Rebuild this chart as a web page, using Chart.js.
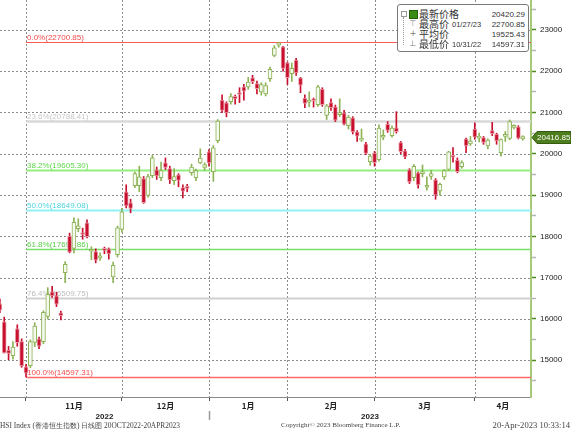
<!DOCTYPE html>
<html>
<head>
<meta charset="utf-8">
<script src="https://cdn.jsdelivr.net/npm/chart.js@4.4.0/dist/chart.umd.min.js"></script>
<style>
  html, body { margin: 0; padding: 0; background: #fff; }
  #wrap { position: relative; width: 571px; height: 430px; overflow: hidden; }
  #c { position: absolute; left: 0; top: 0; }
  .foot { position: absolute; top: 421px; font: 7.4px 'Liberation Serif', serif; line-height: 9px; color: #444; white-space: nowrap; }
  #legend { position: absolute; left: 397px; top: 4px; width: 130px; height: 46px; border: 1px solid #7a7a7a;
            border-radius: 3px; background: #fff; color: #333; }
  #legend .row { position: absolute; left: 0; right: 0; height: 10px; }
  #legend .nm { position: absolute; left: 21px; top: 0; font: 10px 'Noto Sans CJK SC', sans-serif; line-height: 10px; }
  #legend .dt { position: absolute; left: 54px; top: 1px; font: 7.5px 'Liberation Sans', sans-serif; line-height: 10px; }
  #legend .val { position: absolute; right: 3px; top: 1px; font: 8px 'Liberation Sans', sans-serif; line-height: 10px; }
  #legend .ic { position: absolute; left: 11px; top: 0; width: 8px; text-align: center; font: 8px 'DejaVu Sans', sans-serif; line-height: 10px; color: #777; }
  #legend .sq { position: absolute; left: 11px; top: 1px; width: 7px; height: 7px; background: #3a8a16; border: 1px solid #22600a; }
  #tree { position: absolute; left: 5px; top: 12px; width: 5px; height: 28px; border-left: 1px dotted #999; }
  #treebox { position: absolute; left: 3px; top: 6px; width: 4px; height: 4px; border: 1px solid #999; }
</style>
</head>
<body>
<div id="wrap">
  <canvas id="c" width="571" height="430"></canvas>
  <div id="legend"><div id="treebox"></div><div id="tree"></div></div>
  <div class="foot" id="fl" style="left:0"></div>
  <div class="foot" id="fc" style="left:281px;font-size:7px"></div>
  <div class="foot" id="fr" style="right:1px;font-size:8.6px"></div>
</div>
<script>
// HSI daily candles, 20 Oct 2022 - 20 Apr 2023
const dates = [
  '2022-10-20','2022-10-21','2022-10-24','2022-10-25','2022-10-26','2022-10-27','2022-10-28','2022-10-31',
  '2022-11-01','2022-11-02','2022-11-03','2022-11-04','2022-11-07','2022-11-08','2022-11-09','2022-11-10',
  '2022-11-11','2022-11-14','2022-11-15','2022-11-16','2022-11-17','2022-11-18','2022-11-21','2022-11-22',
  '2022-11-23','2022-11-24','2022-11-25','2022-11-28','2022-11-29','2022-11-30',
  '2022-12-01','2022-12-02','2022-12-05','2022-12-06','2022-12-07','2022-12-08','2022-12-09','2022-12-12',
  '2022-12-13','2022-12-14','2022-12-15','2022-12-16','2022-12-19','2022-12-20','2022-12-21','2022-12-22',
  '2022-12-23','2022-12-28','2022-12-29','2022-12-30',
  '2023-01-03','2023-01-04','2023-01-05','2023-01-06','2023-01-09','2023-01-10','2023-01-11','2023-01-12',
  '2023-01-13','2023-01-16','2023-01-17','2023-01-18','2023-01-19','2023-01-20','2023-01-26','2023-01-27',
  '2023-01-30','2023-01-31',
  '2023-02-01','2023-02-02','2023-02-03','2023-02-06','2023-02-07','2023-02-08','2023-02-09','2023-02-10',
  '2023-02-13','2023-02-14','2023-02-15','2023-02-16','2023-02-17','2023-02-20','2023-02-21','2023-02-22',
  '2023-02-23','2023-02-24','2023-02-27','2023-02-28',
  '2023-03-01','2023-03-02','2023-03-03','2023-03-06','2023-03-07','2023-03-08','2023-03-09','2023-03-10',
  '2023-03-13','2023-03-14','2023-03-15','2023-03-16','2023-03-17','2023-03-20','2023-03-21','2023-03-22',
  '2023-03-23','2023-03-24','2023-03-27','2023-03-28','2023-03-29','2023-03-30','2023-03-31',
  '2023-04-03','2023-04-04','2023-04-06','2023-04-11','2023-04-12','2023-04-13','2023-04-14','2023-04-17',
  '2023-04-18','2023-04-19','2023-04-20'
];
const opens = [
  16420,16370,15932,15250,15110,15760,15450,14840,
  14870,15430,15520,15450,16060,16660,16560,16150,17120,18010,17710,18185,18090,18330,17640,17630,17480,17700,17700,17020,17560,18170,
  19080,18810,19230,19230,19400,18990,19470,19610,19420,19780,19640,19350,19490,19180,19210,19540,19420,19780,19670,20050,
  19570,20320,21300,21235,21260,21390,21480,21620,21620,21840,21700,21500,21450,21820,22380,22630,22590,22200,
  21940,22270,21840,21350,21250,21320,21190,21570,20930,21240,21140,20950,20990,20680,20870,20530,20330,20240,19810,20020,
  19860,20400,20720,20440,20630,20270,20070,19610,19420,19540,19520,19190,19450,19370,19100,19440,19620,19960,19850,19690,20360,20240,20600,
  20380,20390,20190,20560,20480,20030,20420,20370,20640,20650,20360
];
const highs = [
  16480,16480,16046,15335,15450,15860,15520,14900,
  15497,15909,15560,16200,16760,16790,16650,16190,17390,18080,18450,18426,18200,18400,17749,17700,17600,17740,17720,17380,18250,18680,
  19250,18900,19560,19700,19450,19500,19960,19680,19800,19900,19700,19640,19520,19250,19260,19750,19630,20120,19780,20100,
  20200,20830,21428,21260,21460,21420,21600,21680,21850,21900,21760,21720,21720,22100,22620,22700.85,22600,22220,
  22200,22310,21850,21428,21500,21350,21660,21600,21200,21330,21180,21330,21050,20930,20900,20560,20600,20280,19990,20060,
  20700,20580,20780,20680,21020,20300,20110,19640,19740,19560,19730,19440,19600,19400,19290,19620,20060,20150,19900,19830,20380,20420,20750,
  20500,20420,20360,20760,20500,20360,20540,20820,20700,20680,20440
];
const lows = [
  16150,16150,15175,15015,15030,15340,14830,14597.31,
  14820,15330,15280,15400,16000,16520,16300,15980,16880,17600,17600,18111,17930,17960,17433,17360,17420,17580,17450,16880,17500,18100,
  18690,18570,19180,19080,18800,18950,19420,19380,19350,19620,19280,19250,19200,18930,19080,19480,19350,19760,19600,19700,
  19330,20266,20993,20896,21200,21200,21240,21300,21560,21700,21450,21420,21400,21750,22350,22580,22000,21680,
  21750,21900,21480,21114,21138,21130,21150,21150,20830,21050,20780,20900,20700,20600,20480,20300,20300,19980,19720,19700,
  19820,20340,20520,20400,20500,20000,19880,19280,19350,19170,19440,19120,19380,18900,19000,19380,19590,19800,19540,19650,20030,20200,20350,
  20290,20230,20120,20440,20230,19940,20300,20340,20600,20360,20330
];
const closes = [
  16280,16211,15181,15166,15318,15428,14863,14687,
  15455,15827,15339,16161,16596,16557,16358,16081,17326,17620,18343,18256,18046,17993,17656,17424,17524,17661,17574,17298,18205,18597,
  18736,18675,19518,19441,18815,19451,19901,19464,19596,19673,19369,19450,19353,19095,19160,19679,19593,19899,19741,19781,
  20145,20793,21052,20992,21388,21331,21436,21514,21739,21747,21578,21678,21651,22045,22567,22689,22070,21842,
  22072,21958,21660,21222,21299,21284,21624,21190,21164,21114,20812,20988,20720,20887,20529,20424,20351,20010,19944,19786,
  20620,20429,20568,20620,20534,20051,19926,19320,19696,19248,19540,19204,19519,19001,19259,19591,20049,19916,19568,19785,20192,20309,20400,
  20409,20275,20331,20485,20310,20344,20439,20780,20660,20380,20416.85
];

const latestPrice = 20420.29;
const avgPrice = 19525.43;
const fibRatios = [0, 0.236, 0.382, 0.5, 0.618, 0.764, 1];
const yLabels = [15000, 16000, 17000, 18000, 19000, 20000, 21000, 22000, 23000];
const monthLabels = ['11月', '12月', '1月', '2月', '3月', '4月'];
const yearLabels = ['2022', '2023'];
const legendNames = ['最新价格', '最高价', '平均价', '最低价'];
const footLeft = 'HSI Index (香港恒生指数)  日线图  20OCT2022-20APR2023';
const footCenter = 'Copyright© 2023 Bloomberg Finance L.P.';
const footRight = '20-Apr-2023 10:33:14';

// styles
const fibLine = ['#ff5a5a', '#d9d9d9', '#93ee7e', '#8ff3f5', '#79e06a', '#d0d0d0', '#ff6b6b'];
const fibText = ['#f24b4b', '#c9c9c9', '#5fd94a', '#4fd3df', '#55cf44', '#bdbdbd', '#f24b4b'];
const fibWidth = [1, 2.5, 2, 2, 1.5, 2, 1.5];
const UP_LINE = '#8db356', UP_FILL = '#f5f9ee', DN_FILL = '#c8102e', DN_LINE = '#e79aa6';
const GRID = '#8c8c8c';
const X_MIN = 1.033, X_MAX = 122.9, Y_MIN = 14111, Y_MAX = 23724;
const FONT = "'Liberation Sans', Arial, sans-serif";

const highValue = Math.max(...highs);
const lowValue = Math.min(...lows);
const highIndex = highs.indexOf(highValue);
const lowIndex = lows.indexOf(lowValue);
const ups = closes.map((c, i) => c >= opens[i]);

const monthEnds = dates.map((d, i) => i).filter(i => i === dates.length - 1 || dates[i].slice(5, 7) !== dates[i + 1].slice(5, 7));
const gridEnds = monthEnds.slice(0, -1);
const monthMids = monthLabels.map((m, k) => (gridEnds[k] + (k + 1 < gridEnds.length ? gridEnds[k + 1] : X_MAX)) / 2);
const yearSep = gridEnds[2];
const yearMids = [(X_MIN + yearSep) / 2, (yearSep + X_MAX) / 2];
const yTicks = yLabels.flatMap(v => [v - 500, v]).concat([yLabels[yLabels.length - 1] + 500]);
const isMajor = v => yLabels.includes(v);

const mdy = d => d.slice(5, 7) + '/' + d.slice(8, 10) + '/' + d.slice(2, 4);

// dotted grid: month ends and labelled price levels
const dotGrid = {
  id: 'dotGrid',
  beforeDatasetsDraw(chart) {
    const { ctx, chartArea, scales: { x, y } } = chart;
    ctx.save();
    ctx.strokeStyle = GRID;
    ctx.lineWidth = 1;
    ctx.setLineDash([2, 2]);
    yLabels.forEach(v => {
      const py = Math.round(y.getPixelForValue(v)) + 0.5;
      ctx.beginPath();
      ctx.moveTo(chartArea.left, py);
      ctx.lineTo(chartArea.right, py);
      ctx.stroke();
    });
    gridEnds.forEach(v => {
      const px = Math.round(x.getPixelForValue(v)) + 0.5;
      ctx.beginPath();
      ctx.moveTo(px, chartArea.top);
      ctx.lineTo(px, chartArea.bottom);
      ctx.stroke();
    });
    ctx.restore();
  }
};

const fibPlugin = {
  id: 'fib',
  beforeDatasetsDraw(chart) {
    const { ctx, chartArea, scales: { x, y } } = chart;
    const x0 = x.getPixelForValue(lowIndex);
    ctx.save();
    ctx.font = '8px ' + FONT;
    ctx.textBaseline = 'bottom';
    fibRatios.forEach((r, i) => {
      const v = highValue - r * (highValue - lowValue);
      const py = Math.round(y.getPixelForValue(v)) + 0.5;
      ctx.strokeStyle = fibLine[i];
      ctx.lineWidth = fibWidth[i];
      ctx.beginPath();
      ctx.moveTo(x0, py);
      ctx.lineTo(chartArea.right, py);
      ctx.stroke();
      ctx.fillStyle = fibText[i];
      ctx.fillText((r * 100).toFixed(1) + '%(' + v.toFixed(2) + ')', x0 + 1, py - 1);
    });
    ctx.restore();
  }
};

const priceTag = {
  id: 'priceTag',
  afterDraw(chart) {
    const { ctx, chartArea, scales: { y } } = chart;
    const last = closes[closes.length - 1];
    const py = Math.round(y.getPixelForValue(last)) + 0.5;
    const x0 = chartArea.right + 1;
    ctx.save();
    ctx.fillStyle = '#4d7d1c';
    ctx.strokeStyle = '#355a10';
    ctx.beginPath();
    ctx.moveTo(x0, py);
    ctx.lineTo(x0 + 5, py - 6);
    ctx.lineTo(571, py - 6);
    ctx.lineTo(571, py + 6);
    ctx.lineTo(x0 + 5, py + 6);
    ctx.closePath();
    ctx.fill();
    ctx.stroke();
    ctx.fillStyle = '#fff';
    ctx.font = '8px ' + FONT;
    ctx.textBaseline = 'middle';
    ctx.fillText(last.toFixed(2), x0 + 5, py + 0.5);
    ctx.restore();
  }
};

new Chart(document.getElementById('c'), {
  type: 'bar',
  data: {
    datasets: [
      {
        label: 'wick',
        data: dates.map((d, i) => ({ x: i, y: [lows[i], highs[i]] })),
        backgroundColor: ups.map(u => u ? UP_LINE : DN_FILL),
        barThickness: 1,
        grouped: false,
        order: 2
      },
      {
        label: 'body',
        data: dates.map((d, i) => ({ x: i, y: [opens[i], closes[i]] })),
        backgroundColor: ups.map(u => u ? UP_FILL : DN_FILL),
        borderColor: ups.map(u => u ? UP_LINE : DN_LINE),
        borderWidth: 1,
        borderSkipped: false,
        barThickness: 4,
        minBarLength: 2,
        grouped: false,
        order: 1
      }
    ]
  },
  options: {
    responsive: false,
    animation: false,
    layout: { padding: { left: 0, right: 0, top: 0, bottom: 9 } },
    plugins: { legend: { display: false }, tooltip: { enabled: false } },
    scales: {
      x: {
        type: 'linear', position: 'bottom', min: X_MIN, max: X_MAX, offset: false, weight: 0,
        afterBuildTicks: s => { s.ticks = gridEnds.map(v => ({ value: v })); },
        afterFit: s => { s.height = 4; s.paddingLeft = 0; s.paddingRight = 0; },
        ticks: { callback: () => '', padding: 0, autoSkip: false, maxRotation: 0 },
        grid: { offset: false, drawOnChartArea: false, drawTicks: true, tickLength: 4, tickColor: '#555', tickWidth: 1 },
        border: { display: true, color: '#8a8a8a', width: 1 }
      },
      xm: {
        type: 'linear', position: 'bottom', min: X_MIN, max: X_MAX, offset: false, weight: 1,
        afterBuildTicks: s => { s.ticks = monthMids.map(v => ({ value: v })); },
        afterFit: s => { s.height = 10; s.paddingLeft = 0; s.paddingRight = 0; },
        ticks: { callback: (v, i) => monthLabels[i], padding: 0, autoSkip: false, maxRotation: 0,
                 color: '#222', font: { size: 8, weight: 'bold', family: "'Noto Sans CJK SC', sans-serif" } },
        grid: { display: false, offset: false, drawTicks: false, tickLength: 0 },
        border: { display: false }
      },
      xy: {
        type: 'linear', position: 'bottom', min: X_MIN, max: X_MAX, offset: false, weight: 2,
        afterBuildTicks: s => { s.ticks = [yearMids[0], yearSep, yearMids[1]].map(v => ({ value: v })); },
        afterFit: s => { s.height = 10; s.paddingLeft = 0; s.paddingRight = 0; },
        ticks: { callback: (v, i) => i === 0 ? yearLabels[0] : (i === 2 ? yearLabels[1] : ''), padding: -8.5,
                 autoSkip: false, maxRotation: 0, color: '#222', font: { size: 8, weight: 'bold', family: FONT } },
        grid: { display: true, offset: false, drawOnChartArea: false, drawTicks: true, tickLength: 9, tickWidth: 1.5,
                tickColor: c => (c.tick && c.tick.value === yearSep) ? '#999' : 'rgba(0,0,0,0)' },
        border: { display: false }
      },
      y: {
        type: 'linear', position: 'right', min: Y_MIN, max: Y_MAX,
        afterBuildTicks: s => { s.ticks = yTicks.map(v => ({ value: v })); },
        afterFit: s => { s.width = 40; s.paddingTop = 0; s.paddingBottom = 0; },
        ticks: { autoSkip: false, padding: 4, color: '#222', font: { size: 8, family: FONT },
                 callback: v => isMajor(v) ? String(v) : '' },
        grid: {
          drawOnChartArea: false,
          tickColor: c => (c.tick && isMajor(c.tick.value)) ? '#4e8a1c' : '#b5b5b5',
          tickLength: 5, tickWidth: 1.5, drawTicks: true
        },
        border: { color: '#a7c97a', width: 2 }
      }
    }
  },
  plugins: [dotGrid, fibPlugin, priceTag]
});

// legend box
const legendDates = ['', mdy(dates[highIndex]), '', mdy(dates[lowIndex])];
const legendValues = [latestPrice, highValue, avgPrice, lowValue];
const legendIcons = ['', '⊤', '+', '⊥'];
const legend = document.getElementById('legend');
legendNames.forEach((name, i) => {
  const row = document.createElement('div');
  row.className = 'row';
  row.style.top = (3.5 + i * 10) + 'px';
  row.innerHTML = (i === 0 ? '<div class="sq"></div>' : '<div class="ic">' + legendIcons[i] + '</div>') +
    '<div class="nm">' + name + '</div>' +
    '<div class="dt">' + legendDates[i] + '</div>' +
    '<div class="val">' + legendValues[i].toFixed(2) + '</div>';
  legend.appendChild(row);
});

document.getElementById('fl').textContent = footLeft;
document.getElementById('fc').textContent = footCenter;
document.getElementById('fr').textContent = footRight;
</script>
</body>
</html>
